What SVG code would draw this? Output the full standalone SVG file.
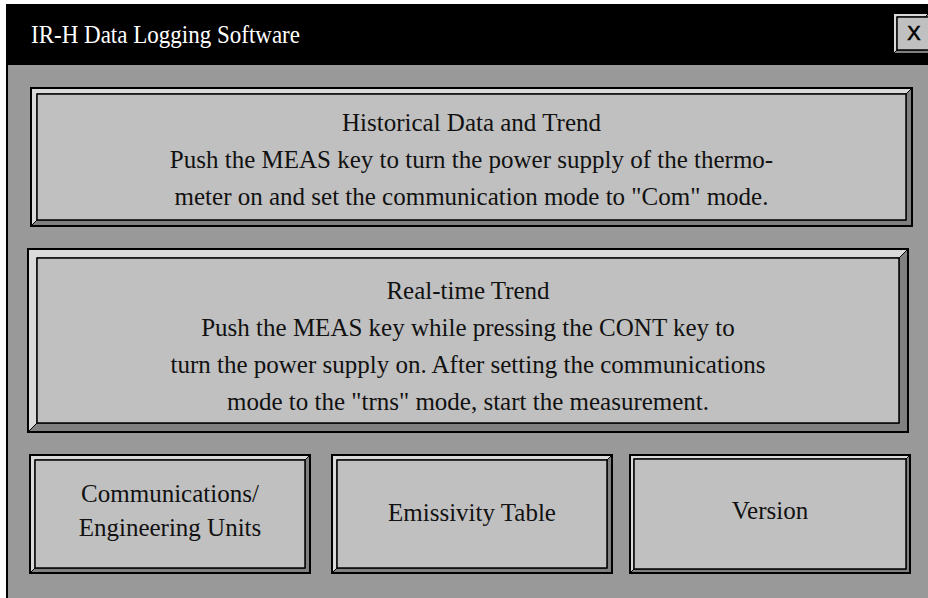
<svg xmlns="http://www.w3.org/2000/svg" width="928" height="598" viewBox="0 0 928 598">
  <defs>
    <style>
      .light { fill: #dadada; stroke: #000; stroke-width: 1; }
      .dark { fill: #808080; stroke: #000; stroke-width: 1; }
      .outer { fill: none; stroke: #000; stroke-width: 2; }
      .face { fill: #c0c0c0; stroke: #000; stroke-width: 1.5; }
      .lbl { font-family: "Liberation Serif", "Times New Roman", serif; font-size: 25px; fill: #111; text-anchor: middle; }
      .title { font-family: "Liberation Serif", "Times New Roman", serif; font-size: 26px; fill: #fff; }
    </style>
  </defs>
  <rect x="0" y="0" width="928" height="598" fill="#ffffff"/>
  <g id="window">
    <rect x="7" y="4" width="921" height="594" fill="#999999"/>
    <line x1="7" y1="4" x2="7" y2="598" stroke="#000" stroke-width="2"/>
    <rect x="6" y="4" width="922" height="61" fill="#000"/>
    <text class="title" x="31" y="43" textLength="269" lengthAdjust="spacingAndGlyphs">IR-H Data Logging Software</text>
  </g>
  <g id="close-button">
    <polygon class="light" points="893,13 929,13 925,17 897,17 897,50 893,54"/>
    <polygon class="dark" points="929,13 929,54 893,54 897,50 925,50 925,17"/>
    <rect class="face" x="897" y="17" width="32" height="33"/>
    <rect class="outer" x="893" y="13" width="36" height="41"/>
    <text x="914" y="40" font-family="'Liberation Sans', Arial, sans-serif" font-size="20" text-anchor="middle" fill="#000" stroke="#000" stroke-width="0.6">X</text>
  </g>
  <g id="historical">
    <polygon class="light" points="31,88 912,88 906,94 37,94 37,220 31,226"/>
    <polygon class="dark" points="912,88 912,226 31,226 37,220 906,220 906,94"/>
    <rect class="face" x="37" y="94" width="869" height="126"/>
    <rect class="outer" x="31" y="88" width="881" height="138"/>
    <text class="lbl" x="471.5" y="131">Historical Data and Trend</text>
    <text class="lbl" x="471.5" y="168">Push the MEAS key to turn the power supply of the thermo-</text>
    <text class="lbl" x="471.5" y="205">meter on and set the communication mode to "Com" mode.</text>
  </g>
  <g id="realtime">
    <polygon class="light" points="28,249 908,249 899,258 37,258 37,423 28,432"/>
    <polygon class="dark" points="908,249 908,432 28,432 37,423 899,423 899,258"/>
    <rect class="face" x="37" y="258" width="862" height="165"/>
    <rect class="outer" x="28" y="249" width="880" height="183"/>
    <text class="lbl" x="468" y="299">Real-time Trend</text>
    <text class="lbl" x="468" y="336">Push the MEAS key while pressing the CONT key to</text>
    <text class="lbl" x="468" y="373">turn the power supply on. After setting the communications</text>
    <text class="lbl" x="468" y="410">mode to the "trns" mode, start the measurement.</text>
  </g>
  <g id="communications">
    <polygon class="light" points="30,455 310,455 305,460 35,460 35,568 30,573"/>
    <polygon class="dark" points="310,455 310,573 30,573 35,568 305,568 305,460"/>
    <rect class="face" x="35" y="460" width="270" height="108"/>
    <rect class="outer" x="30" y="455" width="280" height="118"/>
    <text class="lbl" x="170" y="502">Communications/</text>
    <text class="lbl" x="170" y="536">Engineering Units</text>
  </g>
  <g id="emissivity">
    <polygon class="light" points="332,455 612,455 607,460 337,460 337,568 332,573"/>
    <polygon class="dark" points="612,455 612,573 332,573 337,568 607,568 607,460"/>
    <rect class="face" x="337" y="460" width="270" height="108"/>
    <rect class="outer" x="332" y="455" width="280" height="118"/>
    <text class="lbl" x="472" y="521">Emissivity Table</text>
  </g>
  <g id="version">
    <polygon class="light" points="630,455 910,455 906,459 634,459 634,569 630,573"/>
    <polygon class="dark" points="910,455 910,573 630,573 634,569 906,569 906,459"/>
    <rect class="face" x="634" y="459" width="272" height="110"/>
    <rect class="outer" x="630" y="455" width="280" height="118"/>
    <text class="lbl" x="770" y="519">Version</text>
  </g>
  <g id="connectors"/>
</svg>
